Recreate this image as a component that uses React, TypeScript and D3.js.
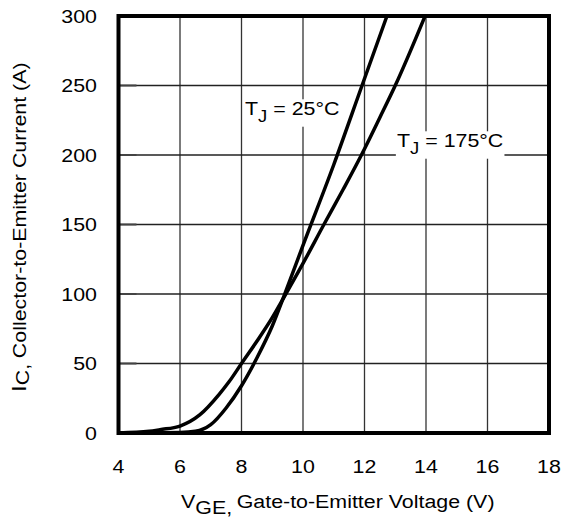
import * as React from "react"
import * as d3 from "d3"

// VGE (V) vs IC (A)
const vge25 = [4, 5, 6, 6.5, 7, 7.5, 8, 8.5, 9, 9.39, 10, 11, 11.92, 12.73]
const ic25 = [0, 0, 0.3, 1.2, 6, 18, 34, 54, 77, 99, 135, 193, 250, 300]

const vge175 = [4, 5, 5.35, 6, 6.64, 7.28, 7.6, 8, 8.5, 9, 9.39, 10, 10.68, 11.3, 11.9, 12.5, 13, 13.97]
const ic175 = [0, 1.2, 2.4, 5, 13, 28, 37, 50, 66, 83, 98, 122, 150, 175, 200, 227, 250, 300]

const xTicks = [4, 6, 8, 10, 12, 14, 16, 18]
const yTicks = [0, 50, 100, 150, 200, 250, 300]

const width = 565
const height = 518
const margin = { top: 16, right: 16, bottom: 85, left: 118.5 }
const font = "'Liberation Sans', Arial, sans-serif"
const fs = 18.6
const stretch = 1.15 // the datasheet font is wider than Arial

export default function App(): React.JSX.Element {
  const svgRef = React.useRef<SVGSVGElement>(null)

  React.useEffect(() => {
    const svg = d3.select(svgRef.current)
    svg.selectAll("*").remove()

    const x = d3.scaleLinear().domain([4, 18]).range([margin.left, width - margin.right])
    const y = d3.scaleLinear().domain([0, 300]).range([height - margin.bottom, margin.top])

    // grid
    svg
      .selectAll(".vgrid")
      .data(xTicks)
      .join("line")
      .attr("class", "vgrid")
      .attr("x1", (d) => x(d))
      .attr("x2", (d) => x(d))
      .attr("y1", y(0))
      .attr("y2", y(300))
      .attr("stroke", "#333")
      .attr("stroke-width", 1.3)

    svg
      .selectAll(".hgrid")
      .data(yTicks)
      .join("line")
      .attr("class", "hgrid")
      .attr("x1", x(4))
      .attr("x2", x(18))
      .attr("y1", (d) => y(d))
      .attr("y2", (d) => y(d))
      .attr("stroke", "#222")
      .attr("stroke-width", 1.3)

    // short ticks on the left axis
    svg
      .selectAll(".ytick")
      .data(yTicks)
      .join("line")
      .attr("class", "ytick")
      .attr("x1", x(4))
      .attr("x2", x(4) + 18)
      .attr("y1", (d) => y(d))
      .attr("y2", (d) => y(d))
      .attr("stroke", "#444")
      .attr("stroke-width", 2)

    const line = d3
      .line<[number, number]>()
      .x((d) => x(d[0]))
      .y((d) => y(d[1]))
      .curve(d3.curveMonotoneX)

    const series: [number, number][][] = [
      vge25.map((v, i) => [v, ic25[i]]),
      vge175.map((v, i) => [v, ic175[i]]),
    ]

    svg
      .append("g")
      .selectAll("path")
      .data(series)
      .join("path")
      .attr("d", (d) => line(d))
      .attr("fill", "none")
      .attr("stroke", "#000")
      .attr("stroke-width", 3.5)

    // frame
    svg
      .append("rect")
      .attr("x", x(4))
      .attr("y", y(300))
      .attr("width", x(18) - x(4))
      .attr("height", y(0) - y(300))
      .attr("fill", "none")
      .attr("stroke", "#000")
      .attr("stroke-width", 4)

    // tick labels
    svg
      .selectAll(".xlab")
      .data(xTicks)
      .join("text")
      .attr("class", "xlab")
      .attr("transform", (d) => `translate(${x(d)},473) scale(${stretch},1)`)
      .attr("text-anchor", "middle")
      .attr("font-family", font)
      .attr("font-size", fs)
      .text((d) => d)

    svg
      .selectAll(".ylab")
      .data(yTicks)
      .join("text")
      .attr("class", "ylab")
      .attr("transform", (d) => `translate(97,${y(d) + 6.6}) scale(${stretch},1)`)
      .attr("text-anchor", "end")
      .attr("font-family", font)
      .attr("font-size", fs)
      .text((d) => d)

    // curve labels with white backing
    const labels = [
      { t: "25°C", x: 245, y: 115 },
      { t: "175°C", x: 397, y: 147 },
    ]
    labels.forEach((l) => {
      const g = svg
        .append("g")
        .attr("transform", `translate(${l.x},${l.y}) scale(${stretch},1)`)
      const txt = g.append("text").attr("font-family", font).attr("font-size", fs)
      txt.append("tspan").text("T")
      txt.append("tspan").attr("font-size", 16).attr("dy", 7).text("J")
      txt.append("tspan").attr("dy", -7).text(" = " + l.t)
      const bb = (txt.node() as SVGTextElement).getBBox()
      g.insert("rect", "text")
        .attr("x", bb.x - 1)
        .attr("y", bb.y + 1)
        .attr("width", bb.width + 2)
        .attr("height", bb.height)
        .attr("fill", "#fff")
    })

    // axis titles
    const xt = svg
      .append("text")
      .attr("transform", `translate(181,508) scale(${stretch},1)`)
      .attr("font-family", font)
      .attr("font-size", fs)
    xt.append("tspan").text("V")
    xt.append("tspan").attr("dy", 6).text("GE,")
    xt.append("tspan").attr("dy", -6).attr("dx", 4).text("Gate-to-Emitter Voltage (V)")

    const yt = svg
      .append("text")
      .attr("transform", `translate(26,392) rotate(-90) scale(${stretch},1)`)
      .attr("font-family", font)
      .attr("font-size", fs)
    yt.append("tspan").attr("font-size", 21).text("I")
    yt.append("tspan").attr("dy", 3).text("C,")
    yt.append("tspan").attr("dy", -3).attr("dx", 5).text("Collector-to-Emitter Current  (A)")
  }, [])

  return (
    <svg
      ref={svgRef}
      width={width}
      height={height}
      style={{ position: "absolute", left: 0, top: 0, background: "#fff" }}
    />
  )
}
